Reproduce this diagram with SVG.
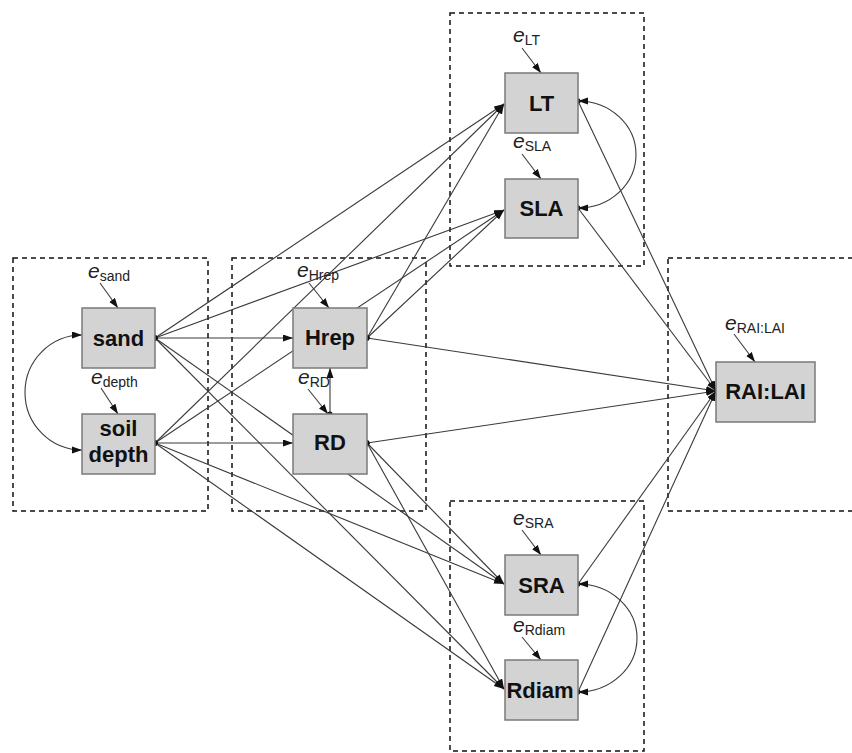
<svg xmlns="http://www.w3.org/2000/svg" width="852" height="753" viewBox="0 0 852 753">
  <style>
    .frame { fill: none; stroke: #111; stroke-width: 1.5; stroke-dasharray: 5 4; }
    .box { fill: #d3d3d3; stroke: #7a7a7a; stroke-width: 1.5; }
    .lbl { font-family: "Liberation Sans", Arial, sans-serif; font-weight: bold; font-size: 22px; fill: #111; text-anchor: middle; }
    .err { font-family: "Liberation Sans", Arial, sans-serif; font-size: 21px; fill: #222; font-style: italic; }
    .sub { font-size: 14px; font-style: normal; }
    .path { fill: none; stroke: #3a3a3a; stroke-width: 1.1; marker-start: url(#dot); marker-end: url(#arrow); }
    .errpath { fill: none; stroke: #3a3a3a; stroke-width: 1.1; marker-end: url(#arrow); }
    .cov { fill: none; stroke: #3a3a3a; stroke-width: 1.1; marker-start: url(#arrow); marker-end: url(#arrow); }
  </style>
  <defs>
    <marker id="arrow" markerUnits="userSpaceOnUse" markerWidth="10" markerHeight="8" refX="10" refY="3.5" orient="auto-start-reverse">
      <path d="M0,0 L10,3.5 L0,7 z" fill="#111"/>
    </marker>
    <marker id="dot" markerUnits="userSpaceOnUse" markerWidth="6" markerHeight="6" refX="3" refY="3" orient="auto">
      <circle cx="3" cy="3" r="2.6" fill="#111"/>
    </marker>
  </defs>

  <rect width="852" height="753" fill="#fff"/>

  <!-- dashed grouping frames -->
  <g id="frames">
    <rect class="frame" x="13" y="258" width="195" height="253"/>
    <rect class="frame" x="232" y="258" width="194" height="253"/>
    <rect class="frame" x="450" y="13" width="194" height="253"/>
    <rect class="frame" x="450" y="501" width="194" height="250"/>
    <rect class="frame" x="668" y="258" width="200" height="253"/>
  </g>

  <!-- paths, error terms and covariances -->
  <g id="connectors">
    <!-- from sand -->
    <line class="path" x1="155" y1="338" x2="504" y2="104"/>
    <line class="path" x1="155" y1="338" x2="504" y2="210"/>
    <line class="path" x1="155" y1="338" x2="293" y2="338"/>
    <line class="path" x1="155" y1="338" x2="504" y2="584"/>
    <line class="path" x1="155" y1="338" x2="504" y2="689"/>
    <!-- from soil depth -->
    <line class="path" x1="155" y1="443" x2="504" y2="104"/>
    <line class="path" x1="155" y1="443" x2="504" y2="210"/>
    <line class="path" x1="155" y1="443" x2="293" y2="443"/>
    <line class="path" x1="155" y1="443" x2="504" y2="584"/>
    <line class="path" x1="155" y1="443" x2="504" y2="689"/>
    <!-- from Hrep -->
    <line class="path" x1="367" y1="338" x2="504" y2="104"/>
    <line class="path" x1="367" y1="338" x2="504" y2="210"/>
    <line class="path" x1="367" y1="338" x2="716" y2="391"/>
    <!-- from RD -->
    <line class="path" x1="330" y1="414" x2="330" y2="368"/>
    <line class="path" x1="367" y1="443" x2="504" y2="584"/>
    <line class="path" x1="367" y1="443" x2="504" y2="689"/>
    <line class="path" x1="367" y1="443" x2="716" y2="391"/>
    <!-- traits to RAI:LAI -->
    <line class="path" x1="578" y1="101" x2="716" y2="391"/>
    <line class="path" x1="578" y1="208" x2="716" y2="391"/>
    <line class="path" x1="578" y1="584" x2="716" y2="391"/>
    <line class="path" x1="578" y1="692" x2="716" y2="391"/>
    <!-- covariances -->
    <path class="cov" d="M82,335 A57 57.5 0 0 0 82,450"/>
    <path class="cov" d="M578,101 A58 53.5 0 0 1 578,208"/>
    <path class="cov" d="M578,584 A59 54 0 0 1 578,692"/>
    <!-- error terms -->
    <line class="errpath" x1="100" y1="283" x2="118" y2="308"/>
    <line class="errpath" x1="101" y1="388" x2="118" y2="414"/>
    <line class="errpath" x1="309" y1="283" x2="329" y2="308"/>
    <line class="errpath" x1="308" y1="389" x2="328" y2="414"/>
    <line class="errpath" x1="522" y1="48" x2="541" y2="73"/>
    <line class="errpath" x1="522" y1="154" x2="541" y2="179"/>
    <line class="errpath" x1="522" y1="530" x2="541" y2="555"/>
    <line class="errpath" x1="522" y1="637" x2="541" y2="660"/>
    <line class="errpath" x1="734" y1="334" x2="755" y2="362"/>
  </g>

  <!-- observed variables -->
  <g id="sand">
    <rect class="box" x="82" y="308" width="73" height="60"/>
    <text class="lbl" x="118.5" y="346">sand</text>
  </g>
  <g id="soil-depth">
    <rect class="box" x="82" y="414" width="73" height="60"/>
    <text class="lbl" x="118.5" y="436">soil</text>
    <text class="lbl" x="118.5" y="462">depth</text>
  </g>
  <g id="hrep">
    <rect class="box" x="293" y="308" width="74" height="60"/>
    <text class="lbl" x="330" y="345">Hrep</text>
  </g>
  <g id="rd">
    <rect class="box" x="293" y="414" width="74" height="60"/>
    <text class="lbl" x="330" y="450">RD</text>
  </g>
  <g id="lt">
    <rect class="box" x="505" y="73" width="73" height="60"/>
    <text class="lbl" x="541.5" y="111">LT</text>
  </g>
  <g id="sla">
    <rect class="box" x="505" y="179" width="73" height="59"/>
    <text class="lbl" x="541.5" y="216">SLA</text>
  </g>
  <g id="sra">
    <rect class="box" x="505" y="555" width="73" height="60"/>
    <text class="lbl" x="541.5" y="593">SRA</text>
  </g>
  <g id="rdiam">
    <rect class="box" x="505" y="660" width="73" height="60"/>
    <text class="lbl" x="540" y="698">Rdiam</text>
  </g>
  <g id="rai-lai">
    <rect class="box" x="716" y="362" width="99" height="60"/>
    <text class="lbl" x="765.5" y="399">RAI:LAI</text>
  </g>

  <!-- error terms -->
  <g id="e-sand"><text class="err" x="88" y="278">e<tspan class="sub" dy="3">sand</tspan></text></g>
  <g id="e-depth"><text class="err" x="91" y="384">e<tspan class="sub" dy="3">depth</tspan></text></g>
  <g id="e-hrep"><text class="err" x="297" y="277">e<tspan class="sub" dy="3">Hrep</tspan></text></g>
  <g id="e-rd"><text class="err" x="298" y="384">e<tspan class="sub" dy="3">RD</tspan></text></g>
  <g id="e-lt"><text class="err" x="513" y="42">e<tspan class="sub" dy="3">LT</tspan></text></g>
  <g id="e-sla"><text class="err" x="513" y="148">e<tspan class="sub" dy="3">SLA</tspan></text></g>
  <g id="e-sra"><text class="err" x="513" y="525">e<tspan class="sub" dy="3">SRA</tspan></text></g>
  <g id="e-rdiam"><text class="err" x="513" y="632">e<tspan class="sub" dy="3">Rdiam</tspan></text></g>
  <g id="e-rai-lai"><text class="err" x="725" y="330">e<tspan class="sub" dy="3">RAI:LAI</tspan></text></g>
</svg>
